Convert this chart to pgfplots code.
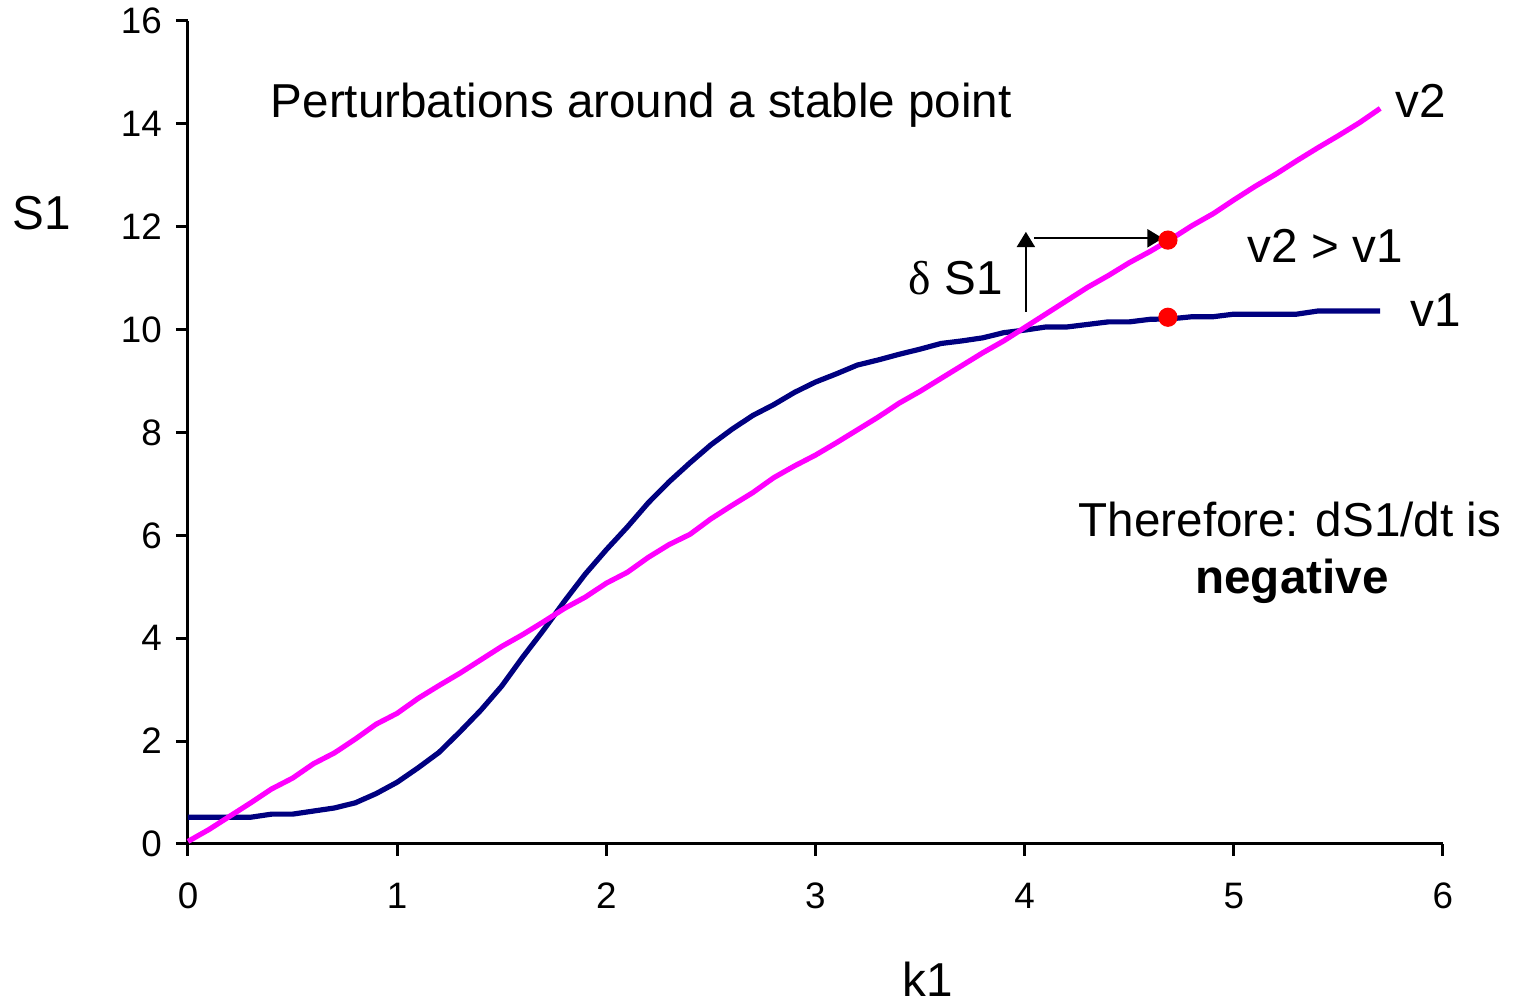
\documentclass[border=0pt]{standalone}
\usepackage{pgfplots}
\pgfplotsset{compat=1.18}
\usepackage{fontspec}
\setmainfont{Liberation Sans}
\newfontfamily\serifgreek{Liberation Serif}
\usetikzlibrary{arrows.meta}
\definecolor{navyline}{RGB}{0,0,128}
\definecolor{magline}{RGB}{255,0,255}
\definecolor{dotred}{RGB}{255,0,0}
\pgfplotstableread{
x y
0 0.52
0.1 0.52
0.2 0.52
0.3 0.52
0.4 0.58
0.5 0.58
0.6 0.64
0.7 0.70
0.8 0.80
0.9 0.98
1.0 1.20
1.1 1.48
1.2 1.78
1.3 2.18
1.4 2.60
1.5 3.07
1.6 3.63
1.7 4.16
1.8 4.72
1.9 5.25
2.0 5.72
2.1 6.16
2.2 6.63
2.3 7.04
2.4 7.41
2.5 7.76
2.6 8.06
2.7 8.33
2.8 8.54
2.9 8.78
3.0 8.98
3.1 9.14
3.2 9.31
3.3 9.41
3.4 9.52
3.5 9.62
3.6 9.73
3.7 9.78
3.8 9.84
3.9 9.94
4.0 9.99
4.1 10.05
4.2 10.05
4.3 10.10
4.4 10.15
4.5 10.15
4.6 10.20
4.7 10.21
4.8 10.25
4.9 10.25
5.0 10.30
5.1 10.30
5.2 10.30
5.3 10.30
5.4 10.36
5.5 10.36
5.6 10.36
5.7 10.36
}\vone
\pgfplotstableread{
x y
0 0.05
0.1 0.28
0.2 0.54
0.3 0.80
0.4 1.07
0.5 1.28
0.6 1.56
0.7 1.77
0.8 2.04
0.9 2.33
1.0 2.54
1.1 2.83
1.2 3.08
1.3 3.32
1.4 3.58
1.5 3.84
1.6 4.07
1.7 4.32
1.8 4.58
1.9 4.80
2.0 5.07
2.1 5.28
2.2 5.57
2.3 5.82
2.4 6.02
2.5 6.32
2.6 6.58
2.7 6.83
2.8 7.12
2.9 7.35
3.0 7.56
3.1 7.80
3.2 8.05
3.3 8.30
3.4 8.57
3.5 8.80
3.6 9.05
3.7 9.30
3.8 9.55
3.9 9.78
4.0 10.04
4.1 10.30
4.2 10.56
4.3 10.82
4.4 11.05
4.5 11.30
4.6 11.52
4.7 11.76
4.8 12.02
4.9 12.25
5.0 12.52
5.1 12.78
5.2 13.02
5.3 13.28
5.4 13.53
5.5 13.77
5.6 14.02
5.7 14.30
}\vtwo
\begin{document}
\begin{tikzpicture}[x=0.25pt,y=0.25pt]
\path[use as bounding box] (0,0) rectangle (1514,1002);
\begin{axis}[
  at={(47pt,39.5pt)}, anchor=south west,
  scale only axis, width=313.75pt, height=205.75pt,
  xmin=0, xmax=6, ymin=0, ymax=16,
  axis x line*=bottom, axis y line*=left,
  axis line style={line width=0.75pt, black},
  xtick={0,1,2,3,4,5,6}, ytick={0,2,4,6,8,10,12,14,16},
  tick align=outside, tick style={line width=0.75pt, black},
  major tick length=3pt,
  /pgf/number format/assume math mode=true,
  tick label style={font=\fontsize{9.2}{10}\selectfont},
  xticklabel style={yshift=-3.2pt},
  clip=false,
]
\addplot[navyline, line width=1.3pt] table[x=x,y=y] {\vone};
\addplot[magline, line width=1.3pt] table[x=x,y=y] {\vtwo};
\draw[-{Triangle[length=3.8pt,width=4.5pt]}, line width=0.5pt] (axis cs:4.006,10.35) -- (axis cs:4.006,11.9);
\draw[-{Triangle[length=3.8pt,width=4.5pt]}, line width=0.5pt] (axis cs:4.045,11.775) -- (axis cs:4.66,11.775);
\addplot[only marks, mark=*, mark size=2.2pt, dotred, mark options={draw=dotred, fill=dotred}] coordinates {(4.685,11.74) (4.685,10.24)};
\end{axis}
\begin{scope}[every node/.style={inner sep=0pt, font=\fontsize{11.9}{14}\selectfont}]
\node[anchor=base west] at (270,884) {Perturbations around a stable point};
\node[anchor=base west] at (1395,884) {v2};
\node[anchor=base west] at (1410,675) {v1};
\node[anchor=base west] at (1247,739) {v2 > v1};
\node[anchor=base west] at (908,707) {{\serifgreek δ} S1};
\node[anchor=base] at (1290,465) {Therefore: dS1/dt is};
\node[anchor=base] at (1292,408) {\bfseries negative};
\node[anchor=base west] at (12,772) {S1};
\node[anchor=base west] at (902,5) {k1};
\end{scope}
\end{tikzpicture}
\end{document}
